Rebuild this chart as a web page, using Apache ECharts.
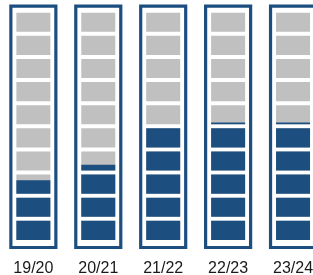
<!DOCTYPE html>
<html>
<head>
<meta charset="utf-8">
<script src="https://cdn.jsdelivr.net/npm/echarts@6/dist/echarts.min.js"></script>
<style>
html,body{margin:0;padding:0;background:#fff;}
#chart{width:313px;height:275px;}
</style>
</head>
<body>
<div id="chart"></div>
<script>
var categories = ['19/20', '20/21', '21/22', '22/23', '23/24'];
var values = [27, 33, 50, 51, 51];
var segmentCount = 10;
var maxValue = 100;

var BLUE = '#1c4e80';
var GRAY = '#c0c0c0';

var chart = echarts.init(document.getElementById('chart'), null, {renderer: 'canvas'});

function renderItem(params, api) {
  var idx = api.value(0);
  var val = api.value(1);
  var p0 = api.coord([idx, 0]);
  var p1 = api.coord([idx, maxValue]);
  var cx = p0[0];
  var yBottom = p0[1];
  var yTop = p1[1];
  var boxW = 45, segW = 34, gap = 2;
  var children = [];
  children.push({
    type: 'rect',
    shape: {x: cx - boxW / 2, y: yTop - 4.5, width: boxW, height: (yBottom + 5.5) - (yTop - 4.5)},
    style: {fill: '#fff', stroke: BLUE, lineWidth: 3.2}
  });
  var step = maxValue / segmentCount;
  for (var i = 0; i < segmentCount; i++) {
    var sb = api.coord([idx, step * i])[1] - gap;
    var st = api.coord([idx, step * (i + 1)])[1] + gap;
    var h = sb - st;
    children.push({
      type: 'rect',
      shape: {x: cx - segW / 2, y: st, width: segW, height: h},
      style: {fill: GRAY}
    });
    if (val > step * i) {
      var f = Math.min(1, (val - step * i) / step);
      children.push({
        type: 'rect',
        shape: {x: cx - segW / 2, y: sb - f * h, width: segW, height: f * h},
        style: {fill: BLUE}
      });
    }
  }
  return {type: 'group', children: children};
}

chart.setOption({
  animation: false,
  grid: {left: 0.9, top: 10.7, width: 324.6, bottom: 33, containLabel: false, outerBoundsMode: 'none'},
  xAxis: {
    type: 'category',
    data: categories,
    axisLine: {show: false},
    axisTick: {show: false},
    axisLabel: {
      margin: 19,
      fontSize: 16,
      color: '#1a1a1a',
      fontFamily: 'Liberation Sans, Arial, sans-serif'
    }
  },
  yAxis: {
    type: 'value',
    min: 0,
    max: maxValue,
    show: false,
    splitLine: {show: false}
  },
  series: [{
    type: 'custom',
    clip: false,
    renderItem: renderItem,
    data: values.map(function (v, i) { return [i, v]; })
  }]
});
</script>
</body>
</html>
